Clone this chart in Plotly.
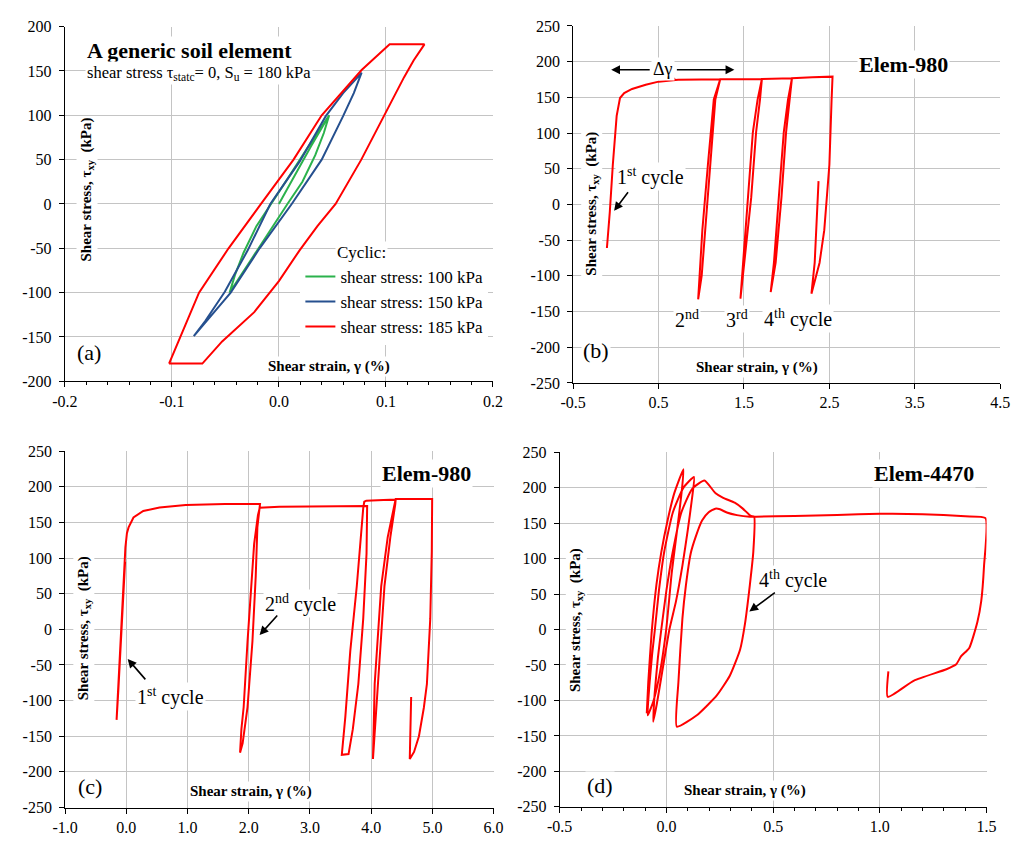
import plotly.graph_objects as go

W, H = 1021, 842
SERIF = "Liberation Serif"

# ---------------- data ----------------
# Panel (a): generic soil element, cyclic loops
a_green_x = [0.0, 0.015, 0.030, 0.047, 0.042, 0.034, 0.022, 0.008, -0.008, -0.025, -0.046,
             -0.041, -0.033, -0.021, -0.007, 0.009, 0.026, 0.047]
a_green_y = [0, 33, 65, 100, 80, 55, 25, 0, -30, -62, -100,
             -80, -55, -25, 0, 30, 62, 100]
a_blue_x = [-0.0795, -0.0688, -0.0505, -0.029, -0.008, 0.0195, 0.0438, 0.060, 0.0773,
            0.070, 0.060, 0.040, 0.012, -0.018, -0.045, -0.0658, -0.0795]
a_blue_y = [-149, -132, -99, -52, 0, 48, 99, 125, 148,
            125, 99, 50, 0, -50, -100, -129, -149]
a_red_x = [-0.1026, -0.0715, -0.053, -0.023, 0.0, 0.0195, 0.036, 0.053, 0.077, 0.0986, 0.117,
           0.126, 0.136, 0.1035, 0.0773, 0.040, 0.0137, -0.0167, -0.047, -0.0746, -0.092, -0.1026]
a_red_y = [-180, -180, -155, -122, -87, -52, -25, 0, 50, 100, 143,
           162, 180, 180, 151, 100, 50, 0, -50, -100, -150, -180]
a_names = ["shear stress: 100 kPa", "shear stress: 150 kPa", "shear stress: 185 kPa"]

# Panel (b): Elem-980
b_x = [-0.104, -0.07, -0.035, 0.010, 0.049, 0.098, 0.19, 0.35, 0.5, 0.73, 1.0, 1.222,
       1.165, 1.108, 1.051, 1.005, 0.964,
       0.985, 1.013, 1.078, 1.147, 1.222,
       1.71,
       1.688, 1.642, 1.585, 1.508, 1.459,
       1.49, 1.547, 1.604, 1.66, 1.71,
       2.062,
       2.034, 1.993, 1.939, 1.871, 1.813,
       1.851, 1.908, 1.966, 2.016, 2.062,
       2.3, 2.537,
       2.526, 2.5, 2.44, 2.385, 2.29,
       2.328, 2.373]
b_y = [-61, -10, 55.6, 124, 149, 156, 161.7, 167.6, 172, 174.5, 175, 175.3,
       147, 55.6, -36, -100, -133,
       -90, -36, 55.6, 147, 175.3,
       175.6,
       147, 101, 9.9, -81.6, -132,
       -81.6, 9.9, 101, 147, 175.6,
       176.7,
       147, 101, 9.9, -81.6, -122.8,
       -81.6, 9.9, 101, 147, 176.7,
       178, 179,
       147, 55.6, -36, -81.6, -125,
       -81.6, 32.6]

# Panel (c): Elem-980
c_x = [-0.02, -0.05, -0.09, -0.13, -0.159, -0.125, -0.085, -0.045, -0.015, 0.01, 0.037, 0.117,
       0.277, 0.543, 0.97, 1.61, 2.184,
       2.141, 2.114, 2.06, 1.98, 1.90, 1.858,
       1.88, 1.917, 1.98, 2.035, 2.088, 2.15, 2.18,
       2.5, 3.0, 3.5, 3.934,
       3.924, 3.87, 3.79, 3.70, 3.63, 3.52,
       3.578, 3.658, 3.765, 3.845, 3.87, 3.887, 3.92, 4.2, 4.40,
       4.393, 4.313, 4.217, 4.11, 4.06, 4.029,
       4.057, 4.164, 4.27, 4.377, 4.40, 4.996,
       4.99, 4.965, 4.91, 4.86, 4.78, 4.70, 4.63,
       4.653]
c_y = [95, 40, -25, -85, -127, -70, 0, 70, 115, 135, 143, 157,
       166, 171, 174.4, 176, 176,
       143, 74.5, -17, -109, -160, -173,
       -140, -109, -17, 51.6, 120, 160, 170.7,
       172, 172.5, 173, 173,
       106.5, 15, -76.7, -140, -175, -176,
       -122.5, -31, 60.8, 152.5, 170, 179, 180.5, 181.5, 182,
       175.3, 129.5, 60.8, -76.7, -150, -182,
       -76.7, 60.8, 129.5, 175.3, 183, 183,
       110, 15, -76.7, -110, -150, -172, -182,
       -95]

# Panel (d): Elem-4470
d_x = [-0.092, -0.085, -0.0695, -0.0466, -0.0238, 0.0067, 0.037, 0.080,
       0.07, 0.05, 0.025, -0.001, -0.03, -0.06, -0.088,
       -0.08, -0.067, -0.054, -0.035, -0.01, 0.03, 0.08, 0.129,
       0.12, 0.10, 0.075, 0.045, 0.014, -0.02, -0.045, -0.062,
       -0.055, -0.04, -0.024, 0.0, 0.03, 0.07, 0.12, 0.178,
       0.229, 0.266, 0.32, 0.358, 0.396, 0.411,
       0.407, 0.391, 0.368, 0.345, 0.297, 0.236, 0.144, 0.049,
       0.056, 0.075, 0.091, 0.114, 0.137, 0.167, 0.198, 0.229, 0.251, 0.283, 0.33, 0.39, 0.42,
       0.6, 0.8, 1.0, 1.2, 1.4, 1.495,
       1.488, 1.475, 1.457, 1.419, 1.38, 1.358, 1.312, 1.16, 1.037, 1.04]
d_y = [-118, -74.6, -5.5, 63.5, 109.5, 155.5, 192.3, 226,
       190, 140, 80, 0, -60, -100, -121,
       -80, -35, 0, 55, 110, 165, 200, 215,
       185, 140, 90, 40, 0, -60, -105, -130,
       -90, -40, 0, 55, 110, 165, 198, 210,
       192.5, 185.6, 178.7, 170.4, 160, 159,
       109, 63, 8, -28.6, -65.3, -93, -120.6, -137,
       -75, 15.6, 61.6, 107.6, 130.6, 153.6, 165.2, 170.3, 169.4, 164.9, 161.2, 158.9, 159,
       160, 161.5, 163, 162.5, 159.5, 157,
       89, 40, 10.6, -26, -38, -49, -56, -72, -95, -59]

# tick values / labels
a_xticks = [-0.2, -0.1, 0.0, 0.1, 0.2]
a_xlabels = ["-0.2", "-0.1", "0.0", "0.1", "0.2"]
a_yticks = [-200, -150, -100, -50, 0, 50, 100, 150, 200]
b_xticks = [-0.5, 0.5, 1.5, 2.5, 3.5, 4.5]
b_xlabels = ["-0.5", "0.5", "1.5", "2.5", "3.5", "4.5"]
c_xticks = [-1, 0, 1, 2, 3, 4, 5, 6]
c_xlabels = ["-1.0", "0.0", "1.0", "2.0", "3.0", "4.0", "5.0", "6.0"]
d_xticks = [-0.5, 0.0, 0.5, 1.0, 1.5]
d_xlabels = ["-0.5", "0.0", "0.5", "1.0", "1.5"]
bcd_yticks = [-250, -200, -150, -100, -50, 0, 50, 100, 150, 200, 250]

# ---------------- figure ----------------
RED = "#ff0000"
GREEN = "#2bb24c"
BLUE = "#26508f"

fig = go.Figure()
fig.add_trace(go.Scatter(x=a_green_x, y=a_green_y, mode="lines", name=a_names[0],
                         line=dict(color=GREEN, width=2), xaxis="x", yaxis="y", legendgroup="g1"))
fig.add_trace(go.Scatter(x=a_blue_x, y=a_blue_y, mode="lines", name=a_names[1],
                         line=dict(color=BLUE, width=2), xaxis="x", yaxis="y", legendgroup="g2"))
fig.add_trace(go.Scatter(x=a_red_x, y=a_red_y, mode="lines", name=a_names[2],
                         line=dict(color=RED, width=2), xaxis="x", yaxis="y", legendgroup="g3"))
fig.add_trace(go.Scatter(x=b_x, y=b_y, mode="lines", showlegend=False,
                         line=dict(color=RED, width=2), xaxis="x2", yaxis="y2"))
fig.add_trace(go.Scatter(x=c_x, y=c_y, mode="lines", showlegend=False,
                         line=dict(color=RED, width=2), xaxis="x3", yaxis="y3"))
fig.add_trace(go.Scatter(x=d_x, y=d_y, mode="lines", showlegend=False,
                         line=dict(color=RED, width=2, shape="spline", smoothing=0.5),
                         xaxis="x4", yaxis="y4"))


def px(v):
    return v / W


def py(v):
    return 1 - v / H


TICKFONT = dict(family=SERIF, size=16, color="black")


def xax(dom, rng, vals, labels, anchor, minor=None):
    d = dict(domain=dom, range=rng, tickvals=vals, ticktext=labels, anchor=anchor,
             showline=True, linecolor="black", linewidth=1, ticks="outside", ticklen=5,
             tickcolor="black", showgrid=True, gridcolor="#c4c4c4", gridwidth=1,
             zeroline=False, tickfont=TICKFONT, fixedrange=True)
    if minor is not None:
        d["minor"] = dict(dtick=minor, ticks="outside", ticklen=3, tickcolor="black", showgrid=False)
    return d


def yax(dom, rng, vals, anchor):
    return dict(domain=dom, range=rng, tickvals=vals, ticktext=[str(v) for v in vals], anchor=anchor,
                showline=True, linecolor="black", linewidth=1, ticks="outside", ticklen=5,
                tickcolor="black", showgrid=True, gridcolor="#c4c4c4", gridwidth=1,
                zeroline=False, tickfont=TICKFONT, fixedrange=True, ticklabelstandoff=4)


# small red wavy underline below the "Δγ" label (decoration)
wave = "M %.5f,%.5f" % (px(655), py(70.5))
for i in range(1, 10):
    wave += " L %.5f,%.5f" % (px(655 + 2.5 * i), py(70.5 + (2.2 if i % 2 else 0)))

fig.update_layout(
    width=W, height=H, margin=dict(l=0, r=0, t=0, b=0),
    paper_bgcolor="white", plot_bgcolor="white",
    xaxis=xax([px(53), px(491)], [-0.2, 0.2], a_xticks, a_xlabels, "y", minor=0.02),
    yaxis=yax([py(381), py(19)], [-200, 200], a_yticks, "x"),
    xaxis2=xax([px(573), px(1010)], [-0.5, 4.5], b_xticks, b_xlabels, "y2"),
    yaxis2=yax([py(382.7), py(18.3)], [-250, 250], bcd_yticks, "x2"),
    xaxis3=xax([px(53.3), px(491.7)], [-1, 6], c_xticks, c_xlabels, "y3"),
    yaxis3=yax([py(816), py(452.3)], [-250, 250], bcd_yticks, "x3"),
    xaxis4=xax([px(559.3), px(996)], [-0.5, 1.5], d_xticks, d_xlabels, "y4", minor=0.1),
    yaxis4=yax([py(815.3), py(453.3)], [-250, 250], bcd_yticks, "x4"),
    legend=dict(x=px(294), y=py(256), xanchor="left", yanchor="top", bgcolor="white",
                font=dict(family=SERIF, size=17, color="black"), itemwidth=30,
                tracegroupgap=1.5, traceorder="normal"),
    showlegend=True,
    shapes=[dict(type="path", xref="paper", yref="paper", path=wave,
                 line=dict(color="#e02020", width=1.2))],
)

ann = []


def text(x, y, s, size, bold=False, xanchor="left", angle=0):
    ann.append(dict(x=x, y=y, xref="paper", yref="paper", text=("<b>%s</b>" % s) if bold else s,
                    showarrow=False, xanchor=xanchor, yanchor="middle", textangle=angle,
                    font=dict(family=SERIF, size=size, color="black"),
                    bgcolor="white", borderpad=1))


def arrow(hx, hy, ax, ay):
    ann.append(dict(x=hx, y=hy, xref="paper", yref="paper", text="", showarrow=True,
                    ax=ax, ay=ay, arrowhead=2, arrowsize=1.1, arrowwidth=1.6, arrowcolor="black"))


YT = "Shear stress, τ<sub>xy</sub>  (kPa)"
XT = "Shear strain, γ (%)"

# panel (a)
text(px(74), py(43), "A generic soil element", 22, bold=True)
text(px(74), py(66), "shear stress τ<sub>statc</sub>= 0, S<sub>u</sub> = 180 kPa", 16.5)
text(px(329), py(250), "Cyclic:", 17)
text(px(63), py(352), "(a)", 22)
text(px(323), py(366), XT, 15, bold=True, xanchor="center")
text(px(76), py(185), YT, 15, bold=True, xanchor="center", angle=-90)

# panel (b)
text(px(911), py(58), "Elem-980", 22, bold=True, xanchor="center")
text(px(665), py(62), "Δγ", 18, xanchor="center")
arrow(px(612), py(63), 40, 0)
arrow(px(738), py(63), -59, 0)
text(px(616), py(172), "1<sup>st</sup> cycle", 20)
arrow(px(615), py(207), 15, -20)
text(px(675), py(317), "2<sup>nd</sup>", 20)
text(px(727), py(317), "3<sup>rd</sup>", 20)
text(px(766), py(317), "4<sup>th</sup> cycle", 20)
text(px(581), py(350), "(b)", 22)
text(px(761), py(367), XT, 15, bold=True, xanchor="center")
text(px(592), py(200), YT, 15, bold=True, xanchor="center", angle=-90)

# panel (c)
text(px(422.7), py(475), "Elem-980", 22, bold=True, xanchor="center")
text(px(256), py(608), "2<sup>nd</sup> cycle", 20)
arrow(px(252.3), py(640), 19, -21)
text(px(124.7), py(703), "1<sup>st</sup> cycle", 20)
arrow(px(117.3), py(664.3), 19, 22)
text(px(64.7), py(795), "(c)", 22)
text(px(243.3), py(800), XT, 15, bold=True, xanchor="center")
text(px(72.7), py(633), YT, 15, bold=True, xanchor="center", angle=-90)

# panel (d)
text(px(931.7), py(475), "Elem-4470", 22, bold=True, xanchor="center")
text(px(761.3), py(583), "4<sup>th</sup> cycle", 20)
arrow(px(753.3), py(616), 27, -20)
text(px(584.7), py(794), "(d)", 22)
text(px(749.3), py(799), XT, 15, bold=True, xanchor="center")
text(px(576.7), py(625), YT, 15, bold=True, xanchor="center", angle=-90)

fig.update_layout(annotations=ann)
fig.write_html("out.html")
